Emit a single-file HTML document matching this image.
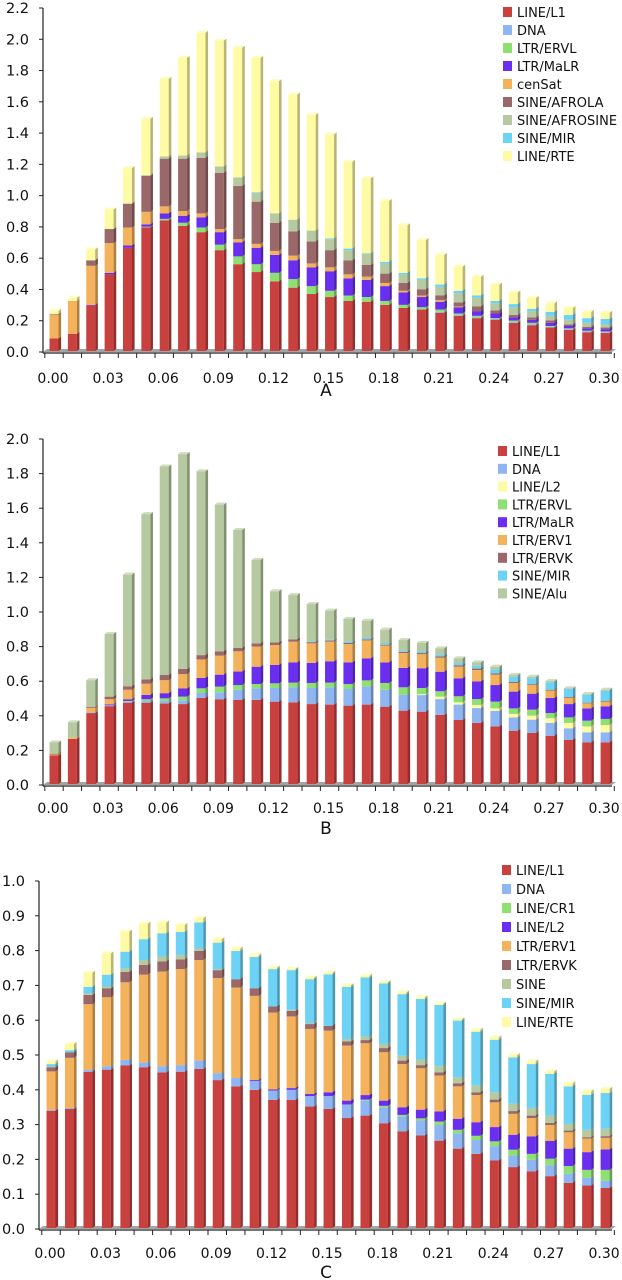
<!DOCTYPE html>
<html><head><meta charset="utf-8"><style>
html,body{margin:0;padding:0;background:#fff;}
svg{display:block;font-family:"DejaVu Sans","Liberation Sans",sans-serif;}
</style></head><body>
<svg id="fig" width="622" height="1280" viewBox="0 0 622 1280" xmlns="http://www.w3.org/2000/svg"></svg>
<script>
const xTickLabels=["0.00","0.03","0.06","0.09","0.12","0.15","0.18","0.21","0.24","0.27","0.30"];

// Chart A
const namesA=["LINE/L1","DNA","LTR/ERVL","LTR/MaLR","cenSat","SINE/AFROLA","SINE/AFROSINE","SINE/MIR","LINE/RTE"];
const a_L1=[.08,.11,.29,.49,.66,.79,.835,.80,.76,.645,.555,.505,.445,.405,.365,.345,.32,.315,.295,.275,.265,.245,.225,.21,.20,.18,.165,.15,.135,.12,.115];
const a_DNA=[0,0,0,0,0,0,0,0,0,0,0,0,0,0,0,0,0,0,0,0,0,.005,.005,.005,.005,.005,.005,.005,.005,.005,.005];
const a_ERVL=[0,0,0,0,0,.005,.01,.02,.03,.035,.05,.05,.055,.055,.05,.04,.035,.03,.025,.02,.015,.015,.01,.01,.005,.01,.01,.005,.005,.005,.005];
const a_MaLR=[0,0,.005,.01,.015,.015,.035,.045,.065,.08,.09,.105,.115,.12,.12,.125,.11,.11,.095,.08,.065,.05,.04,.03,.03,.02,.02,.02,.015,.015,.015];
const a_cenSat=[.15,.21,.25,.19,.115,.08,.045,.03,.025,.02,.02,.025,.025,.03,.025,.025,.025,.02,.02,.01,.01,.01,.005,0,0,0,0,0,0,0,0];
const a_AFROLA=[.005,0,.035,.09,.15,.23,.305,.335,.355,.36,.34,.27,.18,.155,.14,.11,.09,.075,.06,.05,.04,.03,.025,.03,.02,.015,.015,.015,.01,.01,.01];
const a_AFROSINE=[0,0,0,0,.005,.005,.015,.02,.035,.04,.055,.055,.06,.075,.07,.07,.065,.07,.065,.055,.06,.055,.06,.055,.045,.05,.04,.03,.03,.025,.02];
const a_MIR=[0,0,0,0,0,0,0,0,0,0,0,.005,0,0,0,.005,.01,.005,.01,.01,.01,.015,.015,.015,.015,.02,.015,.025,.03,.03,.035];
const a_RTE=[.022,.02,.07,.125,.225,.36,.495,.625,.765,.805,.83,.86,.845,.80,.74,.665,.555,.48,.39,.305,.245,.19,.155,.12,.105,.075,.07,.055,.045,.04,.04];
const yTicksA=["0.0","0.2","0.4","0.6","0.8","1.0","1.2","1.4","1.6","1.8","2.0","2.2"];

// Chart B
const namesB=["LINE/L1","DNA","LINE/L2","LTR/ERVL","LTR/MaLR","LTR/ERV1","LTR/ERVK","SINE/MIR","SINE/Alu"];
const b_L1=[.165,.26,.41,.45,.47,.47,.465,.462,.497,.49,.487,.486,.476,.472,.462,.459,.453,.459,.447,.424,.418,.399,.37,.353,.333,.308,.295,.279,.256,.241,.241];
const b_DNA=[0,0,.005,.005,.005,.01,.015,.02,.029,.04,.058,.067,.079,.087,.093,.10,.096,.104,.098,.092,.096,.092,.089,.086,.089,.077,.077,.074,.066,.058,.058];
const b_L2=[0,0,0,0,0,0,0,0,0,0,0,0,0,0,0,0,0,0,0,0,.005,.014,.013,.018,.015,.02,.023,.027,.031,.034,.042];
const b_ERVL=[0,0,0,0,.005,.01,.015,.023,.027,.033,.027,.025,.027,.027,.029,.027,.029,.036,.039,.043,.036,.031,.035,.034,.039,.032,.035,.03,.032,.033,.035];
const b_MaLR=[0,0,0,.005,.01,.025,.03,.047,.06,.069,.078,.10,.106,.117,.116,.123,.125,.127,.119,.112,.114,.113,.104,.102,.096,.097,.092,.087,.077,.071,.073];
const b_ERV1=[.005,.008,.025,.03,.055,.065,.075,.083,.107,.11,.117,.116,.115,.12,.113,.114,.106,.104,.097,.086,.082,.081,.067,.066,.06,.05,.05,.043,.035,.029,.027];
const b_ERVK=[.005,0,.005,.015,.02,.025,.03,.03,.025,.025,.019,.019,.016,.013,.007,.006,.006,.006,.005,.007,.006,.008,.008,.008,.007,.006,.005,.005,.005,.004,.004];
const b_MIR=[0,0,0,0,0,0,0,0,0,0,0,0,0,0,.005,.005,.008,.008,.01,.007,.01,.01,.013,.017,.022,.03,.034,.043,.047,.046,.059];
const b_Alu=[.065,.088,.155,.362,.645,.955,1.205,1.242,1.062,.848,.682,.482,.295,.256,.215,.168,.131,.10,.077,.061,.048,.036,.027,.019,.017,.01,.009,.007,.004,.004,.006];
const yTicksB=["0.0","0.2","0.4","0.6","0.8","1.0","1.2","1.4","1.6","1.8","2.0"];

// Chart C
const namesC=["LINE/L1","DNA","LINE/CR1","LINE/L2","LTR/ERV1","LTR/ERVK","SINE","SINE/MIR","LINE/RTE"];
const c_L1=[.337,.342,.449,.455,.467,.462,.447,.449,.457,.425,.407,.397,.368,.368,.349,.342,.316,.323,.301,.278,.266,.251,.228,.213,.194,.175,.163,.149,.13,.122,.115];
const c_DNA=[.003,.003,.006,.01,.016,.014,.018,.019,.024,.02,.024,.025,.027,.029,.03,.037,.039,.043,.046,.042,.043,.045,.044,.04,.041,.033,.033,.031,.026,.022,.021];
const c_CR1=[0,0,0,0,0,0,0,0,0,0,0,0,0,0,0,0,0,.003,.004,.005,.006,.01,.01,.012,.014,.017,.017,.019,.022,.023,.031];
const c_L2=[0,0,0,0,0,0,0,0,0,0,0,.003,.003,.005,.006,.011,.011,.013,.015,.022,.025,.029,.032,.039,.041,.043,.05,.051,.05,.051,.059];
const c_ERV1=[.11,.144,.188,.198,.223,.252,.272,.276,.289,.273,.26,.242,.221,.206,.187,.177,.158,.149,.139,.124,.119,.103,.093,.078,.071,.06,.053,.046,.047,.039,.033];
const c_ERVK=[.012,.016,.027,.026,.03,.028,.029,.028,.026,.023,.024,.022,.018,.016,.014,.014,.012,.009,.012,.01,.009,.009,.009,.008,.008,.008,.007,.006,.005,.004,.005];
const c_SINE=[.002,0,.004,.005,.01,.014,.014,.012,.007,.003,0,0,0,.003,.003,0,.007,.01,.012,.014,.016,.018,.017,.019,.021,.021,.022,.021,.019,.021,.021];
const c_MIR=[.007,.006,.019,.034,.048,.06,.067,.067,.075,.076,.081,.09,.107,.114,.126,.148,.15,.17,.174,.177,.174,.176,.163,.155,.151,.133,.126,.12,.108,.101,.103];
const c_RTE=[.008,.018,.041,.061,.058,.045,.031,.02,.012,.01,.007,.005,.005,.004,.005,.005,.005,.005,.004,.005,.005,.004,.004,.006,.007,.007,.008,.007,.009,.01,.012];
const yTicksC=["0.0","0.1","0.2","0.3","0.4","0.5","0.6","0.7","0.8","0.9","1.0"];

const RED="#c8413f",BLUE="#8fb6f2",GREEN="#8ee072",PURPLE="#6a2ef0",ORANGE="#f4b25c",BROWN="#9a6868",SAGE="#b6c9a0",CYAN="#6cd2f6",YELLOW="#fffba4";
const colorsA=[RED,BLUE,GREEN,PURPLE,ORANGE,BROWN,SAGE,CYAN,YELLOW];
const colorsB=[RED,BLUE,YELLOW,GREEN,PURPLE,ORANGE,BROWN,CYAN,SAGE];
const colorsC=[RED,BLUE,GREEN,PURPLE,ORANGE,BROWN,SAGE,CYAN,YELLOW];

const NS="http://www.w3.org/2000/svg";
const svg=document.getElementById('fig');
function mk(tag,attrs,parent){const e=document.createElementNS(NS,tag);for(const k in attrs)e.setAttribute(k,attrs[k]);(parent||svg).appendChild(e);return e;}

function drawChart(key,series,names,colors,yTicks,L){
  const g=mk('g',{});
  
  
  const yMax=parseFloat(yTicks[yTicks.length-1]);
  const yS=v=>L.y0-(v/yMax)*(L.y0-L.yTop);
  const xS=i=>L.x0+i*L.dx;
  const n=series[0].length;
  const floor=mk('polygon',{points:`${L.ax},${L.y0} ${L.ax+4},${L.y0-3} ${L.xEnd+4},${L.y0-3} ${L.xEnd},${L.y0}`,fill:'#a4a4a4'},g);
  
  
  const ya=mk('line',{x1:L.ax,y1:L.yTop,x2:L.ax,y2:L.y0+1,stroke:'#222','stroke-width':1.2},g);
  
  
  const xa=mk('line',{x1:L.ax,y1:L.y0+1,x2:L.xEnd,y2:L.y0+1,stroke:'#222','stroke-width':1.2},g);
  
  
  for(let i=0;i<=n;i++){
    const tx=xS(i)-L.dx/2;
    const t=mk('line',{x1:tx,y1:L.y0+1,x2:tx,y2:L.y0+6,stroke:'#222','stroke-width':1},g);
    
    
  }
  yTicks.forEach(lbl=>{
    const v=parseFloat(lbl);const y=yS(v);
    const t=mk('line',{x1:L.ax-4,y1:y,x2:L.ax,y2:y,stroke:'#222','stroke-width':1},g);
    
    
    const tx=mk('text',{x:L.labR,y:y+5,'text-anchor':'end','font-size':14.5,fill:'#111'},g);
    tx.textContent=lbl;
    
    
  });
  xTickLabels.forEach((lbl,k)=>{
    const tx=mk('text',{x:xS(k*3)-1,y:L.xLabY,'text-anchor':'middle','font-size':14,fill:'#111'},g);
    tx.textContent=lbl;
    
    
  });
  const lt=mk('text',{x:L.letterX,y:L.letterY,'text-anchor':'middle','font-size':17,fill:'#111'},g);
  lt.textContent=key;
  
  
  const w=9,sd=2.6;
  for(let i=0;i<n;i++){
    const cx=xS(i);
    const bg=mk('g',{},g);
    
    
    let cum=0,topColor=null;
    series.forEach((arr,s)=>{
      const v=arr[i];if(!(v>0))return;
      const yb=yS(cum)-1,yt=yS(cum+v)-1;
      const r=mk('rect',{x:cx-w/2,y:yt,width:w,height:Math.max(0.1,yb-yt),fill:colors[s]},bg);
      
      
      mk('polygon',{points:`${cx+w/2},${yb} ${cx+w/2+sd},${yb-2} ${cx+w/2+sd},${yt-2} ${cx+w/2},${yt}`,fill:colors[s]},bg);
      cum+=v;topColor=colors[s];
    });
    if(topColor){
      const yb=yS(0)-1,yt=yS(cum)-1;
      mk('polygon',{points:`${cx+w/2},${yb} ${cx+w/2+sd},${yb-2} ${cx+w/2+sd},${yt-2} ${cx+w/2},${yt}`,fill:'#000',opacity:0.28},bg);
      mk('polygon',{points:`${cx-w/2},${yt} ${cx-w/2+sd},${yt-2} ${cx+w/2+sd},${yt-2} ${cx+w/2},${yt}`,fill:topColor},bg);
      mk('polygon',{points:`${cx-w/2},${yt} ${cx-w/2+sd},${yt-2} ${cx+w/2+sd},${yt-2} ${cx+w/2},${yt}`,fill:'#fff',opacity:0.35},bg);
    }
  }
  names.forEach((nm,s)=>{
    const y=L.legY+s*L.legDy;
    const lg=mk('g',{},g);
    
    
    mk('rect',{x:L.legX,y:y-5,width:9,height:10,fill:colors[s]},lg);
    const tx=mk('text',{x:L.legX+14,y:y+5,'font-size':13,fill:'#111'},lg);
    tx.textContent=nm;
  });
}

drawChart('A',[a_L1,a_DNA,a_ERVL,a_MaLR,a_cenSat,a_AFROLA,a_AFROSINE,a_MIR,a_RTE],namesA,colorsA,yTicksA,
  {yTop:8,y0:352,ax:43,x0:54,dx:18.37,xEnd:612,labR:29,xLabY:383,letterX:326,letterY:396,legX:503,legY:12,legDy:18});
drawChart('B',[b_L1,b_DNA,b_L2,b_ERVL,b_MaLR,b_ERV1,b_ERVK,b_MIR,b_Alu],namesB,colorsB,yTicksB,
  {yTop:439,y0:785,ax:43,x0:54,dx:18.37,xEnd:612,labR:29,xLabY:813,letterX:326,letterY:834,legX:498,legY:451,legDy:17.8});
drawChart('C',[c_L1,c_DNA,c_CR1,c_L2,c_ERV1,c_ERVK,c_SINE,c_MIR,c_RTE],namesC,colorsC,yTicksC,
  {yTop:881,y0:1229,ax:39,x0:51,dx:18.47,xEnd:612,labR:25,xLabY:1258,letterX:326,letterY:1278,legX:502,legY:870,legDy:19});
</script>
</body></html>
